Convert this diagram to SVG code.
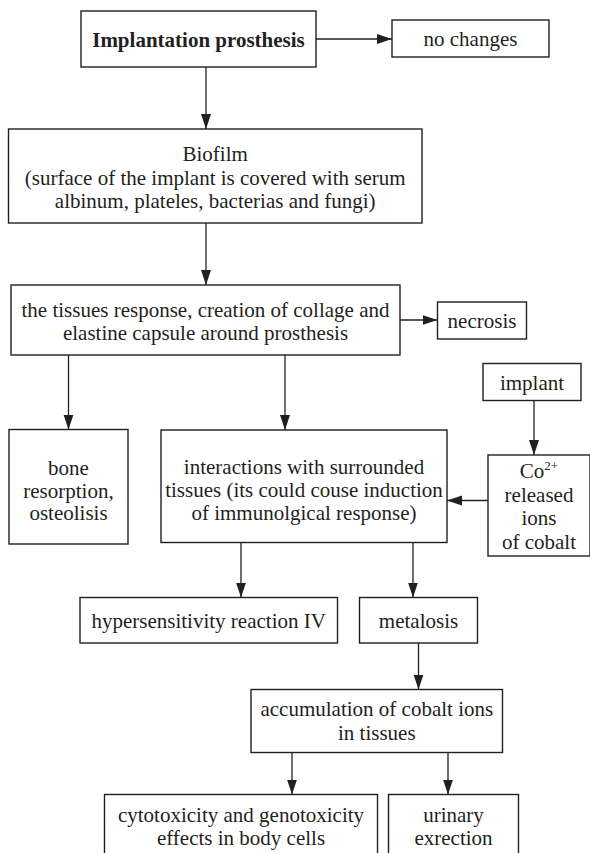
<svg xmlns="http://www.w3.org/2000/svg" width="590" height="853" viewBox="0 0 590 853">
<style>
.box{fill:#fff;stroke:#231f20;stroke-width:1.4}
.t{font-family:"Liberation Serif","Times New Roman",serif;font-size:21px;fill:#231f20;text-anchor:middle}
.b{font-weight:bold}
.c{fill:none;stroke:#231f20;stroke-width:1.3}
</style>
<defs>
<marker id="ah" markerUnits="userSpaceOnUse" markerWidth="16" markerHeight="11" refX="15" refY="5" orient="auto">
<path d="M0,0 L15,5 L0,10 z" fill="#231f20"/>
</marker>
</defs>
<rect width="590" height="853" fill="#fff"/>
<g id="connectors">
<line class="c" x1="316" y1="39" x2="392" y2="39" marker-end="url(#ah)"/>
<line class="c" x1="206" y1="67" x2="206" y2="129" marker-end="url(#ah)"/>
<line class="c" x1="206" y1="223" x2="206" y2="285" marker-end="url(#ah)"/>
<line class="c" x1="400" y1="320" x2="437.5" y2="320" marker-end="url(#ah)"/>
<line class="c" x1="68.5" y1="355" x2="68.5" y2="429.5" marker-end="url(#ah)"/>
<line class="c" x1="285" y1="355" x2="285" y2="430" marker-end="url(#ah)"/>
<line class="c" x1="534" y1="400.5" x2="534" y2="455" marker-end="url(#ah)"/>
<line class="c" x1="488" y1="500.5" x2="447" y2="500.5" marker-end="url(#ah)"/>
<line class="c" x1="241" y1="542.5" x2="241" y2="597.5" marker-end="url(#ah)"/>
<line class="c" x1="413" y1="542.5" x2="413" y2="597.5" marker-end="url(#ah)"/>
<line class="c" x1="418.5" y1="643" x2="418.5" y2="689.5" marker-end="url(#ah)"/>
<line class="c" x1="292" y1="752.5" x2="292" y2="794.5" marker-end="url(#ah)"/>
<line class="c" x1="448" y1="752.5" x2="448" y2="794.5" marker-end="url(#ah)"/>
</g>
<g id="implantation">
<rect class="box" x="81" y="11" width="235" height="56"/>
<text class="t b" x="198.5" y="46.5">Implantation prosthesis</text>
</g>
<g id="nochanges">
<rect class="box" x="392" y="20" width="157" height="37"/>
<text class="t" x="470.5" y="46">no changes</text>
</g>
<g id="biofilm">
<rect class="box" x="8.5" y="129" width="413.5" height="94"/>
<text class="t" x="215.2" y="161">Biofilm</text>
<text class="t" x="215.2" y="184.5">(surface of the implant is covered with serum</text>
<text class="t" x="215.2" y="208">albinum, plateles, bacterias and fungi)</text>
</g>
<g id="tissues">
<rect class="box" x="11" y="285" width="389" height="70"/>
<text class="t" x="205.5" y="316.5">the tissues response, creation of collage and</text>
<text class="t" x="205.5" y="340">elastine capsule around prosthesis</text>
</g>
<g id="necrosis">
<rect class="box" x="437.5" y="302" width="89" height="37"/>
<text class="t" x="482" y="328.3">necrosis</text>
</g>
<g id="implant">
<rect class="box" x="483" y="363.5" width="98" height="37"/>
<text class="t" x="532" y="390">implant</text>
</g>
<g id="bone">
<rect class="box" x="9" y="429.5" width="119" height="114.5"/>
<text class="t" x="68.5" y="475">bone</text>
<text class="t" x="68.5" y="497.5">resorption,</text>
<text class="t" x="68.5" y="519.5">osteolisis</text>
</g>
<g id="interactions">
<rect class="box" x="161" y="430" width="286" height="112.5"/>
<text class="t" x="304" y="474">interactions with surrounded</text>
<text class="t" x="304" y="497">tissues (its could couse induction</text>
<text class="t" x="304" y="519.5">of immunolgical response)</text>
</g>
<g id="cobalt">
<rect class="box" x="488" y="455" width="102" height="101"/>
<text class="t" x="539" y="478">Co<tspan font-size="13" dy="-8">2+</tspan></text>
<text class="t" x="539" y="501.5">released</text>
<text class="t" x="539" y="525">ions</text>
<text class="t" x="539" y="548.5">of cobalt</text>
</g>
<g id="hypersensitivity">
<rect class="box" x="80" y="597.5" width="257.5" height="45.5"/>
<text class="t" x="208.7" y="628">hypersensitivity reaction IV</text>
</g>
<g id="metalosis">
<rect class="box" x="359.5" y="597.5" width="118" height="45.5"/>
<text class="t" x="418.5" y="628">metalosis</text>
</g>
<g id="accumulation">
<rect class="box" x="251" y="689.5" width="251.5" height="63"/>
<text class="t" x="376.8" y="716">accumulation of cobalt ions</text>
<text class="t" x="376.8" y="740">in tissues</text>
</g>
<g id="cytotoxicity">
<rect class="box" x="104.5" y="794.5" width="273" height="70"/>
<text class="t" x="241" y="822">cytotoxicity and genotoxicity</text>
<text class="t" x="241" y="845">effects in body cells</text>
</g>
<g id="urinary">
<rect class="box" x="388.5" y="794.5" width="130" height="70"/>
<text class="t" x="453.5" y="822">urinary</text>
<text class="t" x="453.5" y="845">exrection</text>
</g>
</svg>
